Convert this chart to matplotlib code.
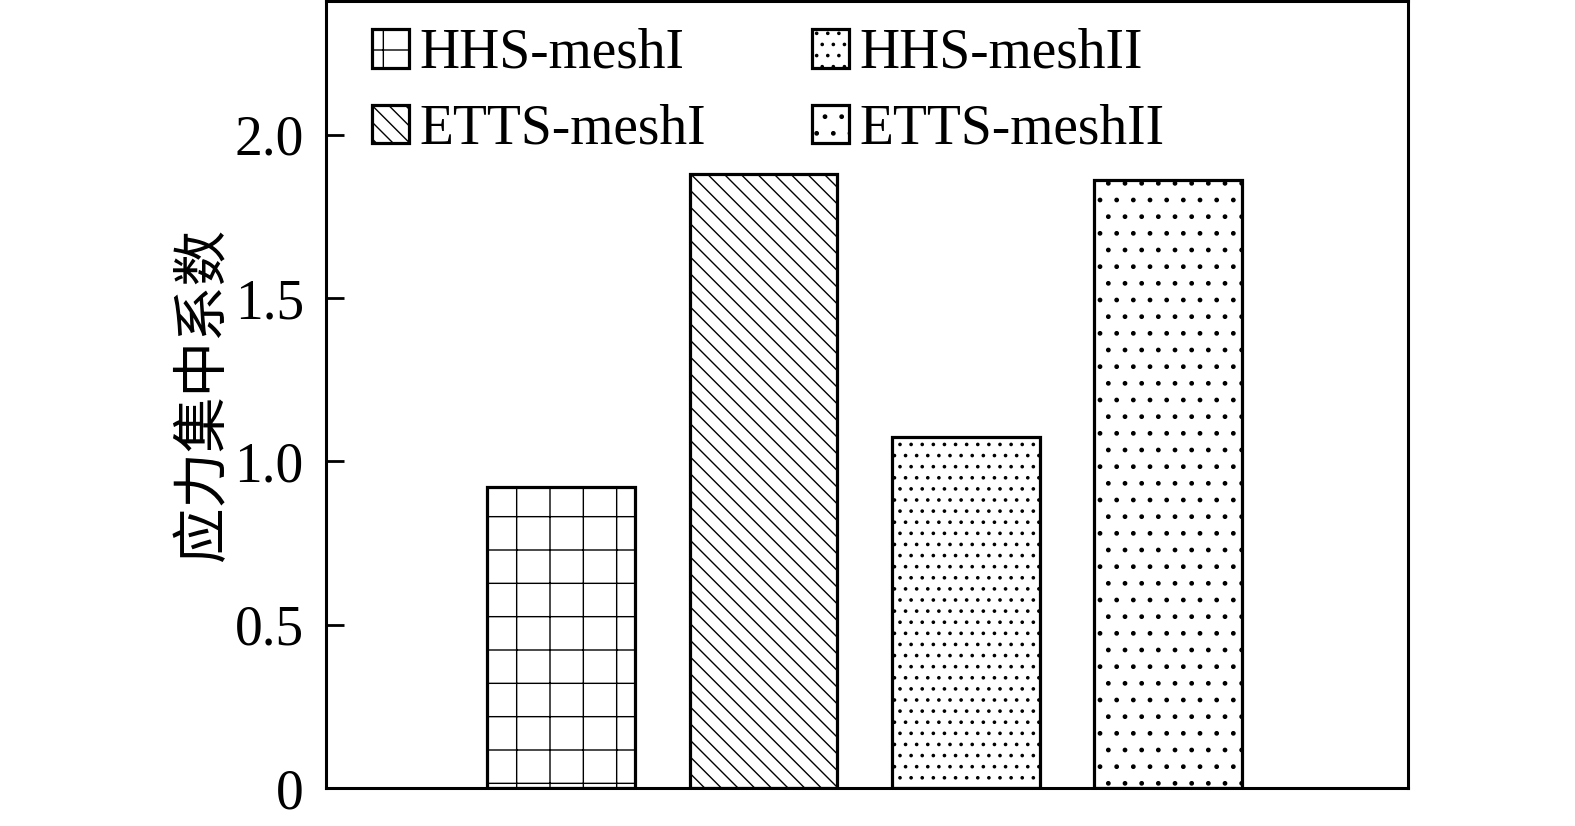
import matplotlib
matplotlib.use("Agg")
import matplotlib.pyplot as plt

# data
labels = ["HHS-meshI", "ETTS-meshI", "HHS-meshII", "ETTS-meshII"]
values = [0.922, 1.880, 1.075, 1.862]
bslash = chr(92)
hatches = ["+", bslash * 4, "...", ".."]
yticks = [0, 0.5, 1.0, 1.5, 2.0]
yticklabels = ["0", "0.5", "1.0", "1.5", "2.0"]

plt.rcParams["font.family"] = ["Liberation Serif", "DejaVu Serif"]
plt.rcParams["hatch.linewidth"] = 0.5
plt.rcParams["hatch.color"] = "black"

fig = plt.figure(figsize=(7.875, 4.13), dpi=200)
ax = fig.add_axes([0.207, 0.046, 0.687, 0.953])

x = range(len(values))
for i in x:
    ax.bar(i, values[i], width=0.73, color="white", edgecolor="black",
           linewidth=1.15, hatch=hatches[i], label=labels[i])

ax.set_xlim(-1.162, 4.186)
ax.set_ylim(0, 2.41)
ax.set_xticks([])
ax.set_yticks(yticks)
ax.set_yticklabels(yticklabels)
ax.tick_params(axis="y", direction="in", length=6.5, width=1.0, pad=8, labelsize=20)
for s in ax.spines.values():
    s.set_linewidth(1.1)

ax.set_ylabel("应力集中系数", fontsize=20, family=["Noto Sans CJK SC", "DejaVu Sans"])
ax.yaxis.set_label_coords(-0.087, 0.5)

ax.legend(loc="upper left", bbox_to_anchor=(0.0425, 0.966), ncol=2, frameon=False,
          fontsize=20, borderpad=0, borderaxespad=0, handlelength=0.66,
          handleheight=0.7, handletextpad=0.2, columnspacing=1.9, labelspacing=0.43)

fig.savefig("out.png", dpi=200)
